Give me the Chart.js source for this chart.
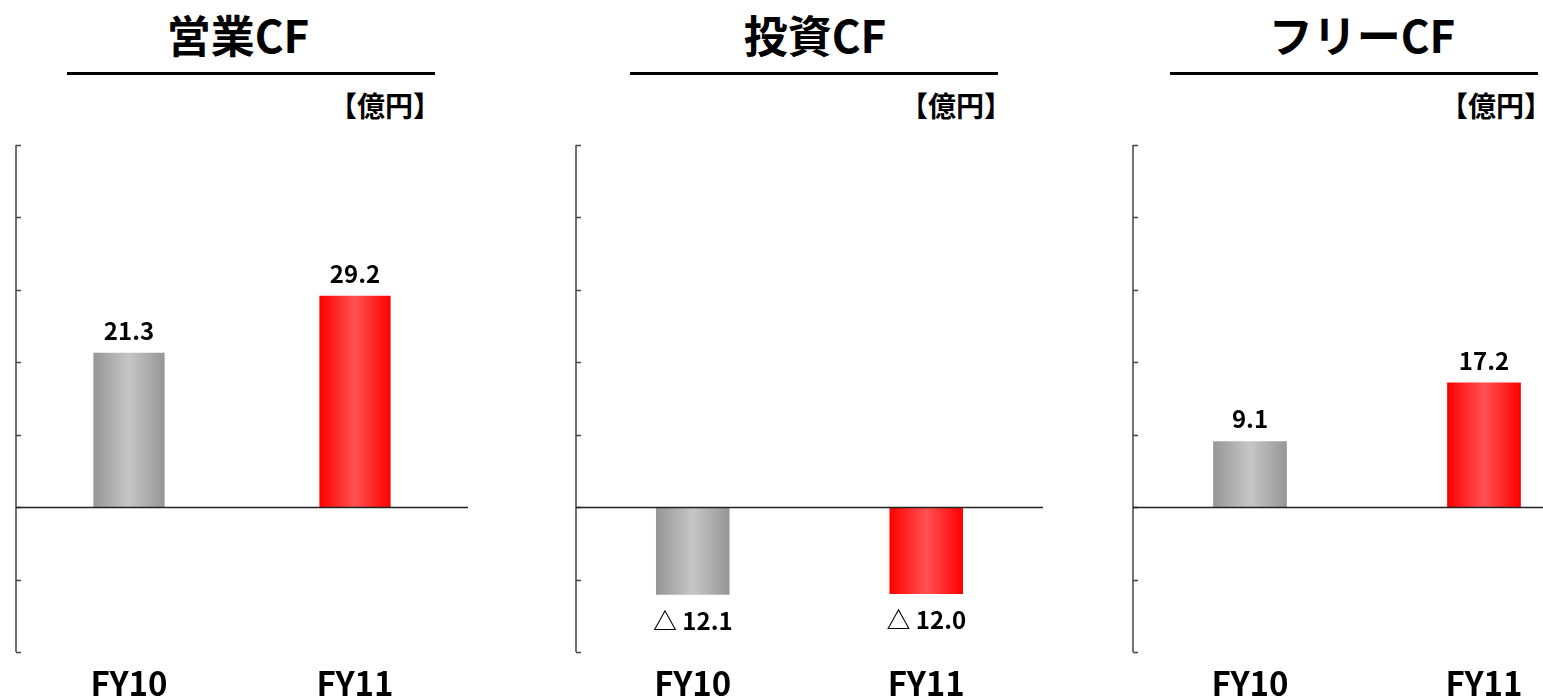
<!DOCTYPE html>
<html lang="ja">
<head>
  <meta charset="UTF-8">
  <title>キャッシュフロー</title>
  <script src="https://cdn.jsdelivr.net/npm/chart.js"></script>
  <style>
    html, body { margin: 0; padding: 0; background: #fff; overflow: hidden; width: 1543px; height: 698px; }
    .abs { position: absolute; }
    .title { font-family: 'Noto Sans CJK JP', sans-serif; font-weight: 700; font-size: 44px; line-height: 44px; color: #000; white-space: nowrap; transform: translateX(-50%); }
    .rule { height: 3px; background: #000; }
    .unit { font-family: 'Noto Sans CJK JP', sans-serif; font-weight: 700; font-size: 28px; line-height: 28px; color: #000; white-space: nowrap; transform: translateX(-100%); }
  </style>
</head>
<body>
  <div id="root"></div>

  <script>
    // データ（億円）
    const categories = ['FY10', 'FY11'];
    const opValues = [21.3, 29.2];      // 営業CF
    const invValues = [-12.1, -12.0];   // 投資CF
    const freeValues = [9.1, 17.2];     // フリーCF
    const titles = ['営業CF', '投資CF', 'フリーCF'];
    const unitLabel = '【億円】';
    const yMin = -20, yMax = 50, yStep = 10;

    // 配置
    const panels = [
      { values: opValues,   axisX: 16,   right: 468,  titleX: 238,  ruleL: 67,   ruleR: 435,  unitR: 441 },
      { values: invValues,  axisX: 576,  right: 1043, titleX: 815,  ruleL: 630,  ruleR: 998,  unitR: 1012 },
      { values: freeValues, axisX: 1133, right: 1601, titleX: 1362, ruleL: 1170, ruleR: 1538, unitR: 1552 }
    ];

    const FONT = "'Noto Sans CJK JP', sans-serif";
    const barColors = [
      { edge: '#969696', mid: '#c6c6c6' },
      { edge: '#ff0000', mid: '#ff5252' }
    ];
    const BAR_PCT = 0.315;

    function fmt(v) {
      return v < 0 ? '△ ' + Math.abs(v).toFixed(1) : v.toFixed(1);
    }

    function gradientFill(ctx) {
      const chart = ctx.chart;
      const c = barColors[ctx.dataIndex];
      const xs = chart.scales.x;
      if (!chart.chartArea || !xs) return c.edge;
      const cx = xs.getPixelForValue(ctx.dataIndex);
      const w = xs.width / categories.length * BAR_PCT;
      const g = chart.ctx.createLinearGradient(cx - w / 2, 0, cx + w / 2, 0);
      g.addColorStop(0, c.edge);
      g.addColorStop(0.5, c.mid);
      g.addColorStop(1, c.edge);
      return g;
    }

    // 軸線・内向き目盛・ゼロ線・値ラベル
    const decor = {
      id: 'decor',
      afterDatasetsDraw(chart) {
        const ctx = chart.ctx;
        const y = chart.scales.y;
        const area = chart.chartArea;
        ctx.save();
        ctx.strokeStyle = '#444';
        ctx.lineWidth = 1.5;
        ctx.beginPath();
        ctx.moveTo(area.left, y.getPixelForValue(yMax));
        ctx.lineTo(area.left, y.getPixelForValue(yMin));
        y.ticks.forEach(t => {
          const py = Math.round(y.getPixelForValue(t.value)) + 0.5;
          ctx.moveTo(area.left, py);
          ctx.lineTo(area.left + 5, py);
        });
        ctx.stroke();

        ctx.strokeStyle = '#222';
        ctx.lineWidth = 1.5;
        ctx.beginPath();
        const zy = Math.round(y.getPixelForValue(0)) + 0.5;
        ctx.moveTo(area.left, zy);
        ctx.lineTo(area.right, zy);
        ctx.stroke();

        ctx.fillStyle = '#000';
        ctx.font = 'bold 24px ' + FONT;
        ctx.textAlign = 'center';
        ctx.textBaseline = 'middle';
        const meta = chart.getDatasetMeta(0);
        meta.data.forEach((el, i) => {
          const v = chart.data.datasets[0].data[i];
          const ty = v >= 0 ? el.y - 22 : el.y + 26;
          ctx.fillText(fmt(v), el.x, ty);
        });
        ctx.restore();
      }
    };

    const root = document.getElementById('root');
    panels.forEach((p, idx) => {
      const t = document.createElement('div');
      t.className = 'abs title';
      t.style.left = p.titleX + 'px';
      t.style.top = '12px';
      t.textContent = titles[idx];
      root.appendChild(t);

      const r = document.createElement('div');
      r.className = 'abs rule';
      r.style.left = p.ruleL + 'px';
      r.style.width = (p.ruleR - p.ruleL) + 'px';
      r.style.top = '72px';
      root.appendChild(r);

      const u = document.createElement('div');
      u.className = 'abs unit';
      u.style.left = p.unitR + 'px';
      u.style.top = '91px';
      u.textContent = unitLabel;
      root.appendChild(u);

      const wrap = document.createElement('div');
      wrap.className = 'abs';
      const pad = 10;
      const w = p.right - p.axisX + pad * 2;
      wrap.style.left = (p.axisX - pad) + 'px';
      wrap.style.top = '130px';
      wrap.style.width = w + 'px';
      wrap.style.height = '580px';
      const cv = document.createElement('canvas');
      wrap.appendChild(cv);
      root.appendChild(wrap);

      new Chart(cv, {
        type: 'bar',
        data: {
          labels: categories,
          datasets: [{
            data: p.values,
            backgroundColor: gradientFill,
            borderWidth: 0,
            barPercentage: BAR_PCT,
            categoryPercentage: 1
          }]
        },
        options: {
          responsive: true,
          maintainAspectRatio: false,
          animation: false,
          layout: { padding: { left: pad, right: pad, top: 15, bottom: 9 } },
          plugins: { legend: { display: false }, tooltip: { enabled: false } },
          scales: {
            x: {
              grid: { display: false, drawTicks: false },
              border: { display: false },
              ticks: {
                color: '#000',
                padding: 12,
                font: { family: FONT, weight: 'bold', size: 33 }
              },
              afterFit(s) { s.height = 49; }
            },
            y: {
              display: false,
              min: yMin,
              max: yMax,
              ticks: { stepSize: yStep }
            }
          }
        },
        plugins: [decor]
      });
    });
  </script>
</body>
</html>
